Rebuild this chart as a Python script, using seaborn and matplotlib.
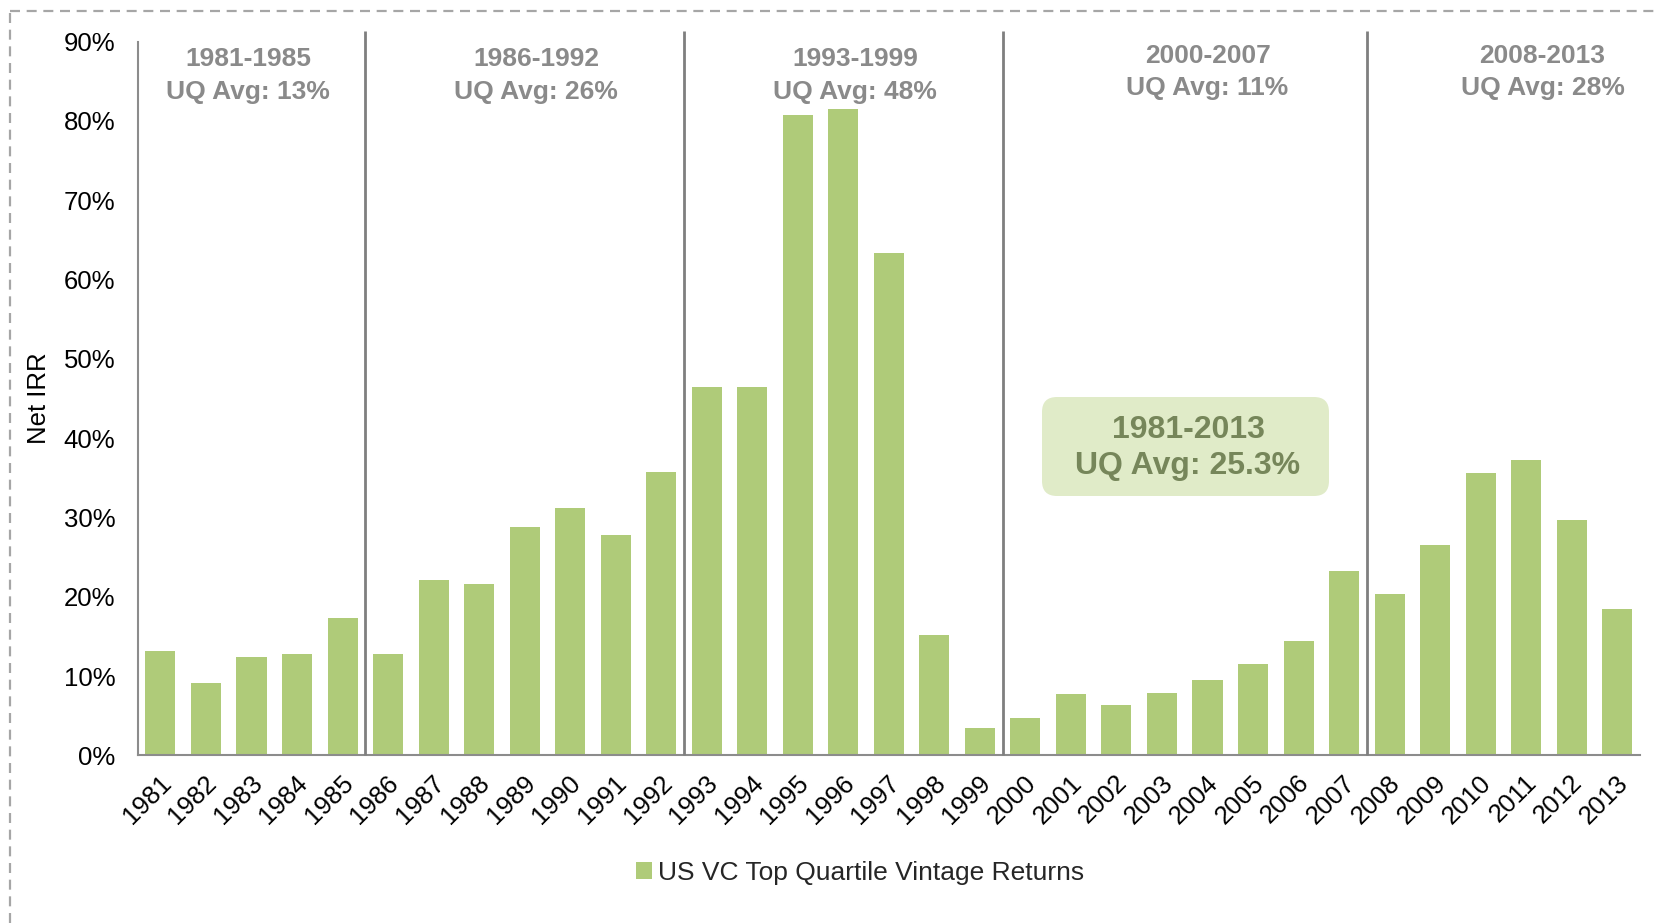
import numpy as np
import pandas as pd
import matplotlib
matplotlib.use("Agg")
import matplotlib.pyplot as plt
import seaborn as sns
from matplotlib.patches import Patch, FancyBboxPatch
from matplotlib.lines import Line2D
from matplotlib.ticker import FixedLocator, MultipleLocator, FuncFormatter
from matplotlib.transforms import ScaledTranslation

# ---------------- data ----------------
years = ["1981", "1982", "1983", "1984", "1985", "1986", "1987", "1988", "1989",
         "1990", "1991", "1992", "1993", "1994", "1995", "1996", "1997", "1998",
         "1999", "2000", "2001", "2002", "2003", "2004", "2005", "2006", "2007",
         "2008", "2009", "2010", "2011", "2012", "2013"]
net_irr = [13.2, 9.1, 12.4, 12.8, 17.3, 12.8, 22.1, 21.6, 28.8, 31.2, 27.8, 35.8,
           46.5, 46.5, 80.7, 81.5, 63.4, 15.2, 3.5, 4.7, 7.7, 6.3, 7.9, 9.5,
           11.5, 14.4, 23.2, 20.4, 26.5, 35.6, 37.3, 29.7, 18.5]
group_names = ["1981-1985", "1986-1992", "1993-1999", "2000-2007", "2008-2013"]
group_avgs = ["13%", "26%", "48%", "11%", "28%"]
group_sizes = [5, 7, 7, 8, 6]
overall_name = "1981-2013"
overall_avg = "25.3%"
series_name = "US VC Top Quartile Vintage Returns"

# ---------------- style ----------------
BAR = "#afcb79"
GRAY_AX = "#8c8c8c"
SEP = "#7f7f7f"
GROUP_TXT = "#8a8a8a"
BOX_FILL = "#e0ebc8"
BOX_TXT = "#76865a"

sns.set_style("white")
plt.rcParams["font.family"] = ["Liberation Sans", "DejaVu Sans"]

W, H = 1654, 923
fig = plt.figure(figsize=(W / 100, H / 100), dpi=100)
ax_l, ax_r, ax_t, ax_b = 137.7, 1640.0, 41.7, 755.4
ax = fig.add_axes([ax_l / W, 1 - ax_b / H, (ax_r - ax_l) / W, (ax_b - ax_t) / H])

df = pd.DataFrame({"year": years, "irr": net_irr})
sns.barplot(data=df, x="year", y="irr", color=BAR, saturation=1, width=0.66,
            ax=ax, edgecolor="none")

n = len(years)
ax.set_xlim(-0.5, n - 0.5)
ax.set_ylim(0, 90)
ax.set_xlabel("")
ax.set_ylabel("Net IRR", fontsize=18.5, color="black", va="center")
ax.yaxis.set_label_coords(-0.066, 0.5)

for s in ["top", "right"]:
    ax.spines[s].set_visible(False)
for s in ["left", "bottom"]:
    ax.spines[s].set_color(GRAY_AX)
    ax.spines[s].set_linewidth(1.5)

ax.yaxis.set_major_locator(MultipleLocator(10))
ax.yaxis.set_major_formatter(FuncFormatter(lambda v, p: f"{v:.0f}%"))
ax.tick_params(axis="y", length=5, width=1.5, color=GRAY_AX, labelsize=18.5,
               labelcolor="black", pad=11)

ax.xaxis.set_minor_locator(FixedLocator(np.arange(-0.5, n, 1.0)))
ax.tick_params(axis="x", which="minor", length=6, width=1.5, color=GRAY_AX)
ax.tick_params(axis="x", which="major", length=0, labelsize=18.5,
               labelcolor="black", pad=17)
for lab in ax.get_xticklabels():
    lab.set_rotation(45)
    lab.set_ha("right")
    lab.set_va("center")
    lab.set_rotation_mode("anchor")
    lab.set_transform(lab.get_transform() + ScaledTranslation(7 / 100, 0, fig.dpi_scale_trans))

# group separators
bounds = np.cumsum(group_sizes)[:-1] - 0.5
ax.vlines(bounds, 0, 91.3, colors=SEP, linewidth=2, clip_on=False, zorder=3)

# group labels
label_x = [1.93, 8.25, 15.26, 23.0, 30.36]
label_y1 = [87.8, 87.8, 87.8, 88.2, 88.2]
label_y2 = [83.7, 83.7, 83.7, 84.2, 84.2]
for name, avg, x, y1, y2 in zip(group_names, group_avgs, label_x, label_y1, label_y2):
    ax.text(x, y1, name, ha="center", va="center", fontsize=19,
            fontweight="bold", color=GROUP_TXT)
    ax.text(x, y2, f"UQ Avg: {avg}", ha="center", va="center", fontsize=19,
            fontweight="bold", color=GROUP_TXT)

# overall average box
box = FancyBboxPatch((1042 / 100, (H - 496) / 100), 2.87, 0.99,
                     boxstyle="round,pad=0,rounding_size=0.15",
                     transform=fig.dpi_scale_trans, facecolor=BOX_FILL,
                     edgecolor="none", zorder=4)
fig.patches.append(box)
fig.text(1188 / W, 1 - 430 / H, overall_name, ha="center", va="center",
         fontsize=23, fontweight="bold", color=BOX_TXT, zorder=5)
fig.text(1188 / W, 1 - 466 / H, f"UQ Avg: {overall_avg}", ha="center",
         va="center", fontsize=23, fontweight="bold", color=BOX_TXT, zorder=5)

# legend
fig.legend(handles=[Patch(facecolor=BAR, edgecolor="none", label=series_name)],
           loc="center", bbox_to_anchor=(860 / W, 1 - 873 / H), frameon=False,
           fontsize=19, handlelength=0.6, handleheight=0.6, handletextpad=0.25)

# dashed frame (top and left)
dash = dict(color="#a6a6a6", linewidth=1.6, linestyle=(0, (4.5, 3)))
fig.add_artist(Line2D([10 / W, 1], [1 - 11 / H, 1 - 11 / H], transform=fig.transFigure, **dash))
fig.add_artist(Line2D([10 / W, 10 / W], [0, 1 - 11 / H], transform=fig.transFigure, **dash))

fig.savefig("out.png", dpi=100)
